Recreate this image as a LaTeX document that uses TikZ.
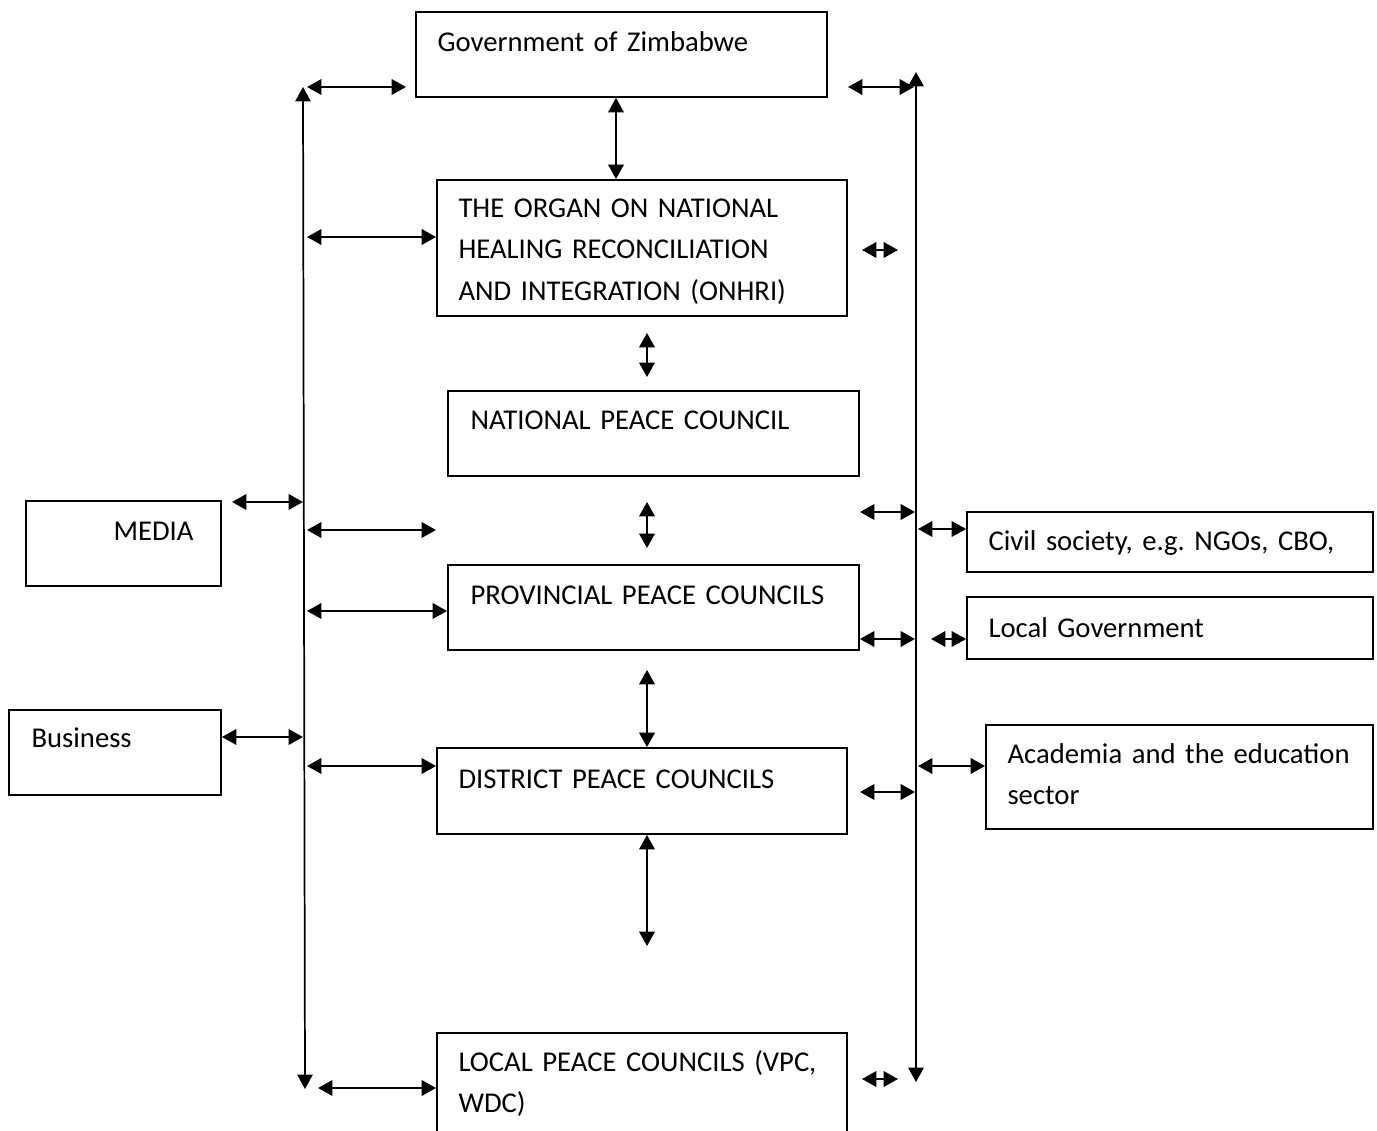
\documentclass[tikz,border=0pt]{standalone}
\usepackage{fontspec}
\setmainfont{Carlito}
\usetikzlibrary{arrows.meta,fit}
\begin{document}
\frenchspacing
\begin{tikzpicture}[x=0.375pt,y=-0.375pt,
  box/.style={draw, line width=0.7pt, inner sep=0pt},
  txt/.style={font=\fontsize{10.75pt}{15.6pt}\selectfont, inner sep=0pt, anchor=base west, align=left, text width=160pt},
  tipA/.tip={Triangle[length=5.4pt,width=5.8pt]},
  arr/.style={line width=0.8pt, tipA-tipA},
  vline/.style={line width=0.65pt, tipA-tipA}
]
\useasboundingbox (0,0) rectangle (1377,1131);
\clip (0,0) rectangle (1377,1131);

% boxes
\node[box, fit={(416,12)(827,97)}] (gov) {};
\node[box, fit={(437,180)(847,316)}] (onhri) {};
\node[box, fit={(448,391)(859,476)}] (npc) {};
\node[box, fit={(448,565)(859,650)}] (ppc) {};
\node[box, fit={(437,748)(847,834)}] (dpc) {};
\node[box, fit={(437,1033)(847,1145)}] (lpc) {};
\node[box, fit={(26,501)(221,586)}] (media) {};
\node[box, fit={(9,710)(221,795)}] (business) {};
\node[box, fit={(967,512)(1373,572)}] (civil) {};
\node[box, fit={(967,597)(1373,659)}] (localgov) {};
\node[box, fit={(986,725)(1373,829)}] (academia) {};

% texts
\node[txt] (govT) at (437,51) {Government of Zimbabwe};
\node[txt] (onhriT) at (458,217) {THE ORGAN ON NATIONAL\\HEALING RECONCILIATION\\AND INTEGRATION (ONHRI)};
\node[txt] (npcT) at (470,429) {NATIONAL PEACE COUNCIL};
\node[txt] (ppcT) at (470,604) {PROVINCIAL PEACE COUNCILS};
\node[txt] (dpcT) at (458,788) {DISTRICT PEACE COUNCILS};
\node[txt] (lpcT) at (458,1071) {LOCAL PEACE COUNCILS (VPC,\\WDC)};
\node[txt] (mediaT) at (113,540) {MEDIA};
\node[txt] (businessT) at (31,747) {Business};
\node[txt] (civilT) at (988,550) {Civil society, e.g. NGOs, CBO,};
\node[txt] (localgovT) at (988,637) {Local Government};
\node[txt] (academiaT) at (1007,763) {Academia and the education\\sector};

% vertical spines
\coordinate (Ltop) at (303,87);
\coordinate (Lbot) at (305,1089);
\coordinate (Rtop) at (916,72);
\coordinate (Rbot) at (916,1082);
\draw[vline] (Lbot) -- (Ltop);
\draw[vline] (Rbot) -- (Rtop);

% left side connectors
\coordinate (a1s) at (307,87);  \coordinate (a1e) at (406,87);
\coordinate (a2s) at (307,237);
\coordinate (a3s) at (232,502); \coordinate (a3e) at (303,502);
\coordinate (a4s) at (307,530); \coordinate (a4e) at (436,530);
\coordinate (a5s) at (307,611);
\coordinate (a6e) at (303,737);
\coordinate (a7s) at (307,766);
\coordinate (a8s) at (318,1088);
\draw[arr] (a1s) -- (a1e);
\draw[arr] (a2s) -- (onhri.west |- a2s);
\draw[arr] (a3s) -- (a3e);
\draw[arr] (a4s) -- (a4e);
\draw[arr] (a5s) -- (ppc.west |- a5s);
\draw[arr] (business.east |- a6e) -- (a6e);
\draw[arr] (a7s) -- (dpc.west |- a7s);
\draw[arr] (a8s) -- (lpc.west |- a8s);

% centre connectors
\coordinate (c1) at (616,0);
\coordinate (c2s) at (647,333); \coordinate (c2e) at (647,377);
\coordinate (c3s) at (647,502); \coordinate (c3e) at (647,548);
\coordinate (c4s) at (647,670);
\coordinate (c5e) at (647,946);
\draw[arr] (gov.south -| c1) -- (onhri.north -| c1);
\draw[arr] (c2s) -- (c2e);
\draw[arr] (c3s) -- (c3e);
\draw[arr] (c4s) -- (dpc.north -| c4s);
\draw[arr] (dpc.south -| c5e) -- (c5e);

% right side connectors
\coordinate (b1s) at (848,87);  \coordinate (b1e) at (914,87);
\coordinate (b2s) at (862,250); \coordinate (b2e) at (898,250);
\coordinate (b3s) at (860,512); \coordinate (b3e) at (915,512);
\coordinate (b4s) at (918,529);
\coordinate (b5e) at (915,639);
\coordinate (b6s) at (931,639);
\coordinate (b7s) at (918,766);
\coordinate (b8s) at (860,792); \coordinate (b8e) at (915,792);
\coordinate (b9s) at (862,1079); \coordinate (b9e) at (898,1079);
\draw[arr] (b1s) -- (b1e);
\draw[arr] (b2s) -- (b2e);
\draw[arr] (b3s) -- (b3e);
\draw[arr] (b4s) -- (civil.west |- b4s);
\draw[arr] (ppc.east |- b5e) -- (b5e);
\draw[arr] (b6s) -- (localgov.west |- b6s);
\draw[arr] (b7s) -- (academia.west |- b7s);
\draw[arr] (b8s) -- (b8e);
\draw[arr] (b9s) -- (b9e);
\end{tikzpicture}
\end{document}
